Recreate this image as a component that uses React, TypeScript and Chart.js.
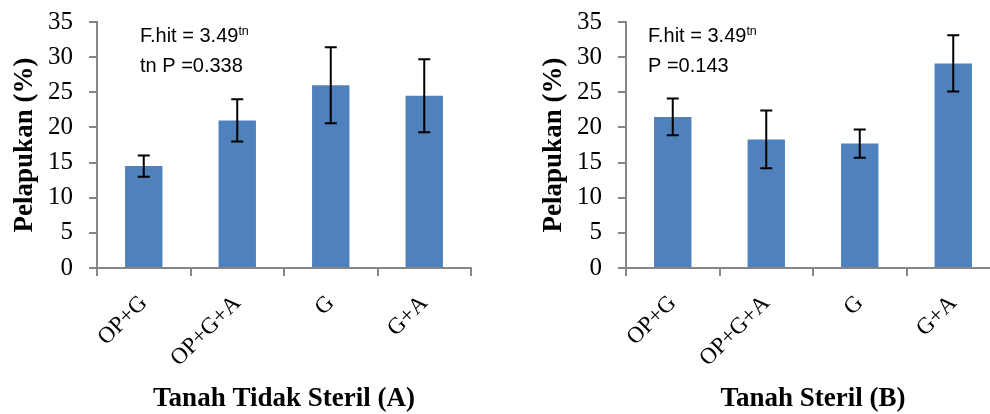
import React, { useEffect, useRef } from "react";
import { Chart, registerables } from "chart.js";

Chart.register(...registerables);

// ---- data ----
const categories = ["OP+G", "OP+G+A", "G", "G+A"];
const valuesA = [14.5, 21.0, 26.0, 24.5];
const errorsA = [1.5, 3.0, 5.4, 5.2];
const valuesB = [21.5, 18.3, 17.7, 29.1];
const errorsB = [2.6, 4.1, 2.0, 4.0];
const yMin = 0;
const yMax = 35;
const yStep = 5;
const yTitle = "Pelapukan (%)";
const xTitleA = "Tanah Tidak Steril (A)";
const xTitleB = "Tanah Steril (B)";
const noteA = [
  { text: "F.hit = 3.49", sup: "tn" },
  { text: "tn P =0.338", sup: "" },
];
const noteB = [
  { text: "F.hit = 3.49", sup: "tn" },
  { text: "P =0.143", sup: "" },
];

const BAR_COLOR = "#4F81BD";
const AXIS_COLOR = "#868686";
const SERIF = '"Liberation Serif", serif';
const SANS = '"Liberation Sans", Arial, sans-serif';

const errorBarPlugin = {
  id: "errorBars",
  afterDatasetsDraw(chart: any, _args: any, opts: any) {
    const errs: number[] = opts.errors || [];
    const ds = chart.data.datasets[0].data as number[];
    const xs = chart.scales.x;
    const ys = chart.scales.y;
    const ctx = chart.ctx;
    ctx.save();
    ctx.strokeStyle = "#000";
    ctx.lineWidth = 2;
    ds.forEach((v, i) => {
      const e = errs[i];
      if (e == null) return;
      const x = xs.getPixelForValue(i);
      const yt = ys.getPixelForValue(v + e);
      const yb = ys.getPixelForValue(v - e);
      ctx.beginPath();
      ctx.moveTo(x, yt);
      ctx.lineTo(x, yb);
      ctx.moveTo(x - 6, yt);
      ctx.lineTo(x + 6, yt);
      ctx.moveTo(x - 6, yb);
      ctx.lineTo(x + 6, yb);
      ctx.stroke();
    });
    ctx.restore();
  },
};

const notePlugin = {
  id: "statNote",
  afterDraw(chart: any, _args: any, opts: any) {
    const lines = opts.lines || [];
    const ctx = chart.ctx;
    const { left, top } = chart.chartArea;
    ctx.save();
    ctx.fillStyle = "#000";
    ctx.textBaseline = "alphabetic";
    ctx.textAlign = "left";
    lines.forEach((ln: any, i: number) => {
      const x = left + opts.dx;
      const y = top + opts.dy + i * 30;
      ctx.font = `20px ${SANS}`;
      ctx.fillText(ln.text, x, y);
      if (ln.sup) {
        const w = ctx.measureText(ln.text).width;
        ctx.font = `12.5px ${SANS}`;
        ctx.fillText(ln.sup, x + w, y - 7);
      }
    });
    ctx.restore();
  },
};

function Panel(props: {
  values: number[];
  errors: number[];
  xTitle: string;
  note: any[];
  noteDx: number;
  left: number;
}) {
  const ref = useRef<HTMLCanvasElement | null>(null);
  useEffect(() => {
    if (!ref.current) return;
    const chart = new Chart(ref.current, {
      type: "bar",
      data: {
        labels: categories,
        datasets: [
          {
            data: props.values,
            backgroundColor: BAR_COLOR,
            borderWidth: 0,
            barPercentage: 0.4,
            categoryPercentage: 1,
          },
        ],
      },
      options: {
        responsive: false,
        animation: false,
        layout: { padding: { top: 22, right: 19, bottom: 0, left: 0 } },
        plugins: {
          legend: { display: false },
          tooltip: { enabled: false },
          errorBars: { errors: props.errors },
          statNote: { lines: props.note, dx: props.noteDx, dy: 20 },
        } as any,
        scales: {
          x: {
            grid: {
              display: true,
              drawOnChartArea: false,
              drawTicks: true,
              tickLength: 8,
              color: AXIS_COLOR,
              lineWidth: 2,
            },
            border: { display: true, color: AXIS_COLOR, width: 2 },
            ticks: {
              minRotation: 45,
              maxRotation: 45,
              padding: 14,
              color: "#000",
              font: { family: SERIF, size: 23 },
            },
            title: {
              display: true,
              text: props.xTitle,
              color: "#000",
              font: { family: SERIF, size: 27, weight: "bold", lineHeight: 1.1 },
              padding: 0,
            },
            afterFit(scale: any) {
              scale.height = 146;
            },
          },
          y: {
            min: yMin,
            max: yMax,
            grid: {
              display: true,
              drawOnChartArea: false,
              drawTicks: true,
              tickLength: 8,
              color: AXIS_COLOR,
              lineWidth: 2,
            },
            border: { display: true, color: AXIS_COLOR, width: 2 },
            ticks: {
              stepSize: yStep,
              padding: 16,
              color: "#000",
              font: { family: SERIF, size: 25 },
            },
            title: {
              display: true,
              text: yTitle,
              color: "#000",
              font: { family: SERIF, size: 27, weight: "bold", lineHeight: 1.2 },
              padding: { top: 9, bottom: 0 },
            },
            afterFit(scale: any) {
              scale.width = 97;
              scale.paddingTop = 10;
              scale.paddingBottom = 10;
            },
          },
        },
      },
      plugins: [errorBarPlugin, notePlugin],
    } as any);
    return () => chart.destroy();
  }, []);
  return (
    <canvas
      ref={ref}
      width={490}
      height={414}
      style={{ position: "absolute", left: props.left, top: 0, width: 490, height: 414 }}
    />
  );
}

export default function App() {
  return (
    <div
      style={{
        position: "absolute",
        left: 0,
        top: 0,
        width: 990,
        height: 414,
        overflow: "hidden",
        background: "#fff",
      }}
    >
      <Panel values={valuesA} errors={errorsA} xTitle={xTitleA} note={noteA} noteDx={43} left={0} />
      <Panel values={valuesB} errors={errorsB} xTitle={xTitleB} note={noteB} noteDx={22} left={529} />
    </div>
  );
}
